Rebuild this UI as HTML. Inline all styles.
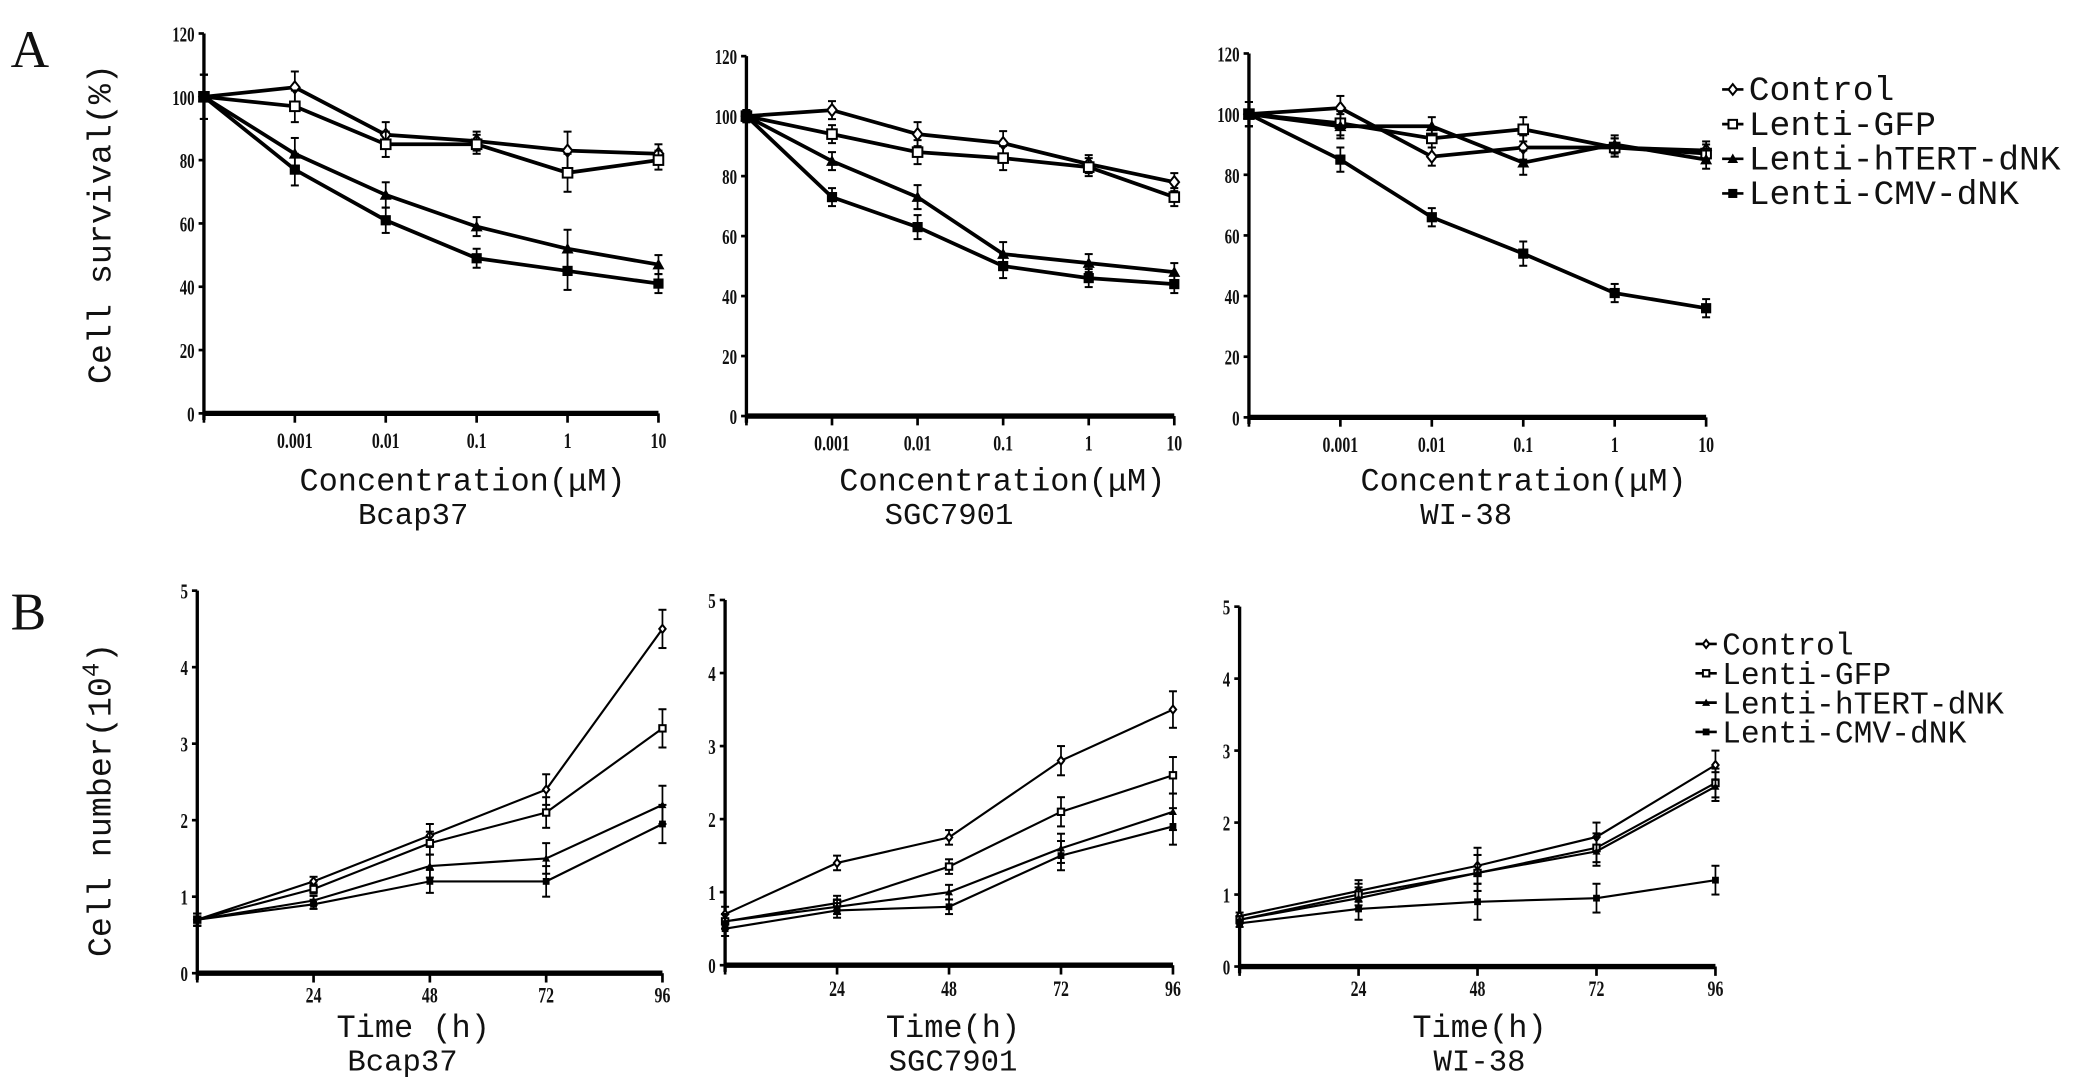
<!DOCTYPE html>
<html><head><meta charset="utf-8">
<style>
html,body{margin:0;padding:0;background:#fff;}
svg{display:block;}
text{font-family:"Liberation Mono","DejaVu Sans Mono",monospace;fill:#111;}
.tick{font-family:"Liberation Serif",serif;font-weight:bold;}
</style></head>
<body>
<svg id="fig" width="2090" height="1090" viewBox="0 0 1568 817.5" xmlns="http://www.w3.org/2000/svg">
<text x="8" y="50" style="font-family:'Liberation Serif',serif" font-size="40">A</text>
<text x="8" y="472" style="font-family:'Liberation Serif',serif" font-size="40">B</text>
<text transform="translate(83,168) rotate(-90)" text-anchor="middle" font-size="25">Cell survival(%)</text>
<text transform="translate(83,600) rotate(-90)" text-anchor="middle" font-size="25">Cell number(10<tspan dy="-9" font-size="18">4</tspan><tspan dy="9">)</tspan></text>
</svg>
<script>
// ---- Data ----
const concCategories = ["", "0.001", "0.01", "0.1", "1", "10"];
const timeCategories = ["", "24", "48", "72", "96"];
const seriesNames = ["Control", "Lenti-GFP", "Lenti-hTERT-dNK", "Lenti-CMV-dNK"];
const survivalTicks = [0, 20, 40, 60, 80, 100, 120];
const numberTicks = [0, 1, 2, 3, 4, 5];

const bcapSurvControl = [100, 103, 88, 86, 83, 82];
const bcapSurvGFP     = [100, 97, 85, 85, 76, 80];
const bcapSurvHTERT   = [100, 82, 69, 59, 52, 47];
const bcapSurvCMV     = [100, 77, 61, 49, 45, 41];
const bcapSurvErr     = [7, 5, 4, 3, 6, 3];

const sgcSurvControl = [100, 102, 94, 91, 84, 78];
const sgcSurvGFP     = [100, 94, 88, 86, 83, 73];
const sgcSurvHTERT   = [100, 85, 73, 54, 51, 48];
const sgcSurvCMV     = [100, 73, 63, 50, 46, 44];
const sgcSurvErr     = [2, 3, 4, 4, 3, 3];

const wiSurvControl = [100, 102, 86, 89, 89, 88];
const wiSurvGFP     = [100, 97, 92, 95, 89, 87];
const wiSurvHTERT   = [100, 96, 96, 84, 90, 85];
const wiSurvCMV     = [100, 85, 66, 54, 41, 36];
const wiSurvErr     = [4, 4, 3, 4, 3, 3];

const bcapNumControl = [0.7, 1.2, 1.8, 2.4, 4.5];
const bcapNumGFP     = [0.7, 1.1, 1.7, 2.1, 3.2];
const bcapNumHTERT   = [0.7, 0.95, 1.4, 1.5, 2.2];
const bcapNumCMV     = [0.7, 0.9, 1.2, 1.2, 1.95];
const bcapNumErr     = [0.08, 0.06, 0.15, 0.2, 0.25];

const sgcNumControl = [0.7, 1.4, 1.75, 2.8, 3.5];
const sgcNumGFP     = [0.6, 0.85, 1.35, 2.1, 2.6];
const sgcNumHTERT   = [0.6, 0.8, 1.0, 1.6, 2.1];
const sgcNumCMV     = [0.5, 0.75, 0.8, 1.5, 1.9];
const sgcNumErr     = [0.1, 0.1, 0.1, 0.2, 0.25];

const wiNumControl = [0.7, 1.05, 1.4, 1.8, 2.8];
const wiNumGFP     = [0.65, 1.0, 1.3, 1.65, 2.55];
const wiNumHTERT   = [0.65, 0.95, 1.3, 1.6, 2.5];
const wiNumCMV     = [0.6, 0.8, 0.9, 0.95, 1.2];
const wiNumErr     = [0.05, 0.15, 0.25, 0.2, 0.2];

const NS = "http://www.w3.org/2000/svg";
const svg = document.getElementById("fig");
function mk(tag, attrs, parent) {
  const e = document.createElementNS(NS, tag);
  for (const k in attrs) e.setAttribute(k, attrs[k]);
  (parent || svg).appendChild(e);
  return e;
}

function marker(g, kind, x, y, s) {
  let m;
  if (kind === 0) {
    m = mk("polygon", {points: `${x},${y-s} ${x+s*0.8},${y} ${x},${y+s} ${x-s*0.8},${y}`, fill: "#fff", stroke: "#000", "stroke-width": 1.5}, g);
  } else if (kind === 1) {
    m = mk("rect", {x: x-s*0.8, y: y-s*0.8, width: s*1.6, height: s*1.6, fill: "#fff", stroke: "#000", "stroke-width": 1.5}, g);
  } else if (kind === 2) {
    m = mk("polygon", {points: `${x},${y-s} ${x+s},${y+s*0.8} ${x-s},${y+s*0.8}`, fill: "#000"}, g);
  } else {
    m = mk("rect", {x: x-s*0.85, y: y-s*0.85, width: s*1.7, height: s*1.7, fill: "#000"}, g);
  }
  return m;
}

function panel(p) {
  const g = mk("g", {});
  
  
  const xs = v => p.xPix[v];
  const ys = v => p.y0 - (v - p.ymin) / (p.ymax - p.ymin) * (p.y0 - p.yTop);
  const ya = mk("line", {x1: p.ax, y1: p.yTop, x2: p.ax, y2: p.y0 + 5, stroke: "#000", "stroke-width": 2.5}, g);
  
  
  const xa = mk("line", {x1: p.ax, y1: p.y0, x2: p.xPix[p.xPix.length-1], y2: p.y0, stroke: "#000", "stroke-width": 4}, g);
  
  
  p.yTicks.forEach(t => {
    const y = ys(t);
    mk("line", {x1: p.ax - 4, y1: y, x2: p.ax, y2: y, stroke: "#000", "stroke-width": 2}, g);
    const tl = mk("text", {x: p.ax - 7, y: y + 6, "text-anchor": "end", "font-size": 16, class: "tick", transform: `translate(${p.ax-7},0) scale(0.7,1) translate(${-(p.ax-7)},0)`}, g);
    tl.textContent = t;
    
    
  });
  p.cats.forEach((c, i) => {
    const x = xs(i);
    mk("line", {x1: x, y1: p.y0, x2: x, y2: p.y0 + 7, stroke: "#000", "stroke-width": 2}, g);
    if (c) {
      const tl = mk("text", {x: x, y: p.tickY, "text-anchor": "middle", "font-size": 17, class: "tick", transform: `translate(${x},0) scale(0.7,1) translate(${-x},0)`}, g);
      tl.textContent = c;
      
      
    }
  });
  p.series.forEach((vals, si) => {
    const sg = mk("g", {}, g);
    
    
    const pts = vals.map((v, i) => `${xs(i)},${ys(v)}`).join(" ");
    const pl = mk("polyline", {points: pts, fill: "none", stroke: "#000", "stroke-width": p.lw}, sg);
    
    
    vals.forEach((v, i) => {
      const e = p.err[i];
      const x = xs(i);
      mk("line", {x1: x, y1: ys(v - e), x2: x, y2: ys(v + e), stroke: "#000", "stroke-width": 1.3}, sg);
      mk("line", {x1: x - 3, y1: ys(v + e), x2: x + 3, y2: ys(v + e), stroke: "#000", "stroke-width": 1.5}, sg);
      mk("line", {x1: x - 3, y1: ys(v - e), x2: x + 3, y2: ys(v - e), stroke: "#000", "stroke-width": 1.5}, sg);
      const m = marker(sg, si, x, ys(v), p.ms);
      
      
    });
  });
  const t1 = mk("text", {x: p.xtX, y: p.xtY, "text-anchor": "middle", "font-size": 24}, g);
  t1.textContent = p.xTitle;
  
  
  const t2 = mk("text", {x: p.ctX, y: p.xtY + 25, "text-anchor": "middle", "font-size": 23}, g);
  t2.textContent = p.cell;
  
  
}

function lin(a, b, n) { const r = []; for (let i = 0; i < n; i++) r.push(a + (b - a) * i / (n - 1)); return r; }

panel({name: "chart-a-bcap37", ax: 153, y0: 310, yTop: 25, ymin: 0, ymax: 120, yTicks: survivalTicks,
  cats: concCategories, xPix: lin(153, 494, 6), tickY: 336, lw: 2.8, ms: 4.5,
  series: [bcapSurvControl, bcapSurvGFP, bcapSurvHTERT, bcapSurvCMV], err: bcapSurvErr,
  xTitle: "Concentration(μM)", xtX: 347, xtY: 368, cell: "Bcap37", ctX: 310});
panel({name: "chart-a-sgc7901", ax: 560, y0: 312, yTop: 42, ymin: 0, ymax: 120, yTicks: survivalTicks,
  cats: concCategories, xPix: lin(560, 881, 6), tickY: 338, lw: 2.8, ms: 4.5,
  series: [sgcSurvControl, sgcSurvGFP, sgcSurvHTERT, sgcSurvCMV], err: sgcSurvErr,
  xTitle: "Concentration(μM)", xtX: 752, xtY: 368, cell: "SGC7901", ctX: 712});
panel({name: "chart-a-wi38", ax: 937, y0: 313, yTop: 40, ymin: 0, ymax: 120, yTicks: survivalTicks,
  cats: concCategories, xPix: lin(937, 1280, 6), tickY: 339, lw: 2.8, ms: 4.5,
  series: [wiSurvControl, wiSurvGFP, wiSurvHTERT, wiSurvCMV], err: wiSurvErr,
  xTitle: "Concentration(μM)", xtX: 1143, xtY: 368, cell: "WI-38", ctX: 1100});

panel({name: "chart-b-bcap37", ax: 148, y0: 730, yTop: 443, ymin: 0, ymax: 5, yTicks: numberTicks,
  cats: timeCategories, xPix: lin(148, 497, 5), tickY: 752, lw: 1.6, ms: 3,
  series: [bcapNumControl, bcapNumGFP, bcapNumHTERT, bcapNumCMV], err: bcapNumErr,
  xTitle: "Time (h)", xtX: 310, xtY: 778, cell: "Bcap37", ctX: 302});
panel({name: "chart-b-sgc7901", ax: 544, y0: 724, yTop: 450, ymin: 0, ymax: 5, yTicks: numberTicks,
  cats: timeCategories, xPix: lin(544, 880, 5), tickY: 747, lw: 1.6, ms: 3,
  series: [sgcNumControl, sgcNumGFP, sgcNumHTERT, sgcNumCMV], err: sgcNumErr,
  xTitle: "Time(h)", xtX: 715, xtY: 778, cell: "SGC7901", ctX: 715});
panel({name: "chart-b-wi38", ax: 930, y0: 725, yTop: 455, ymin: 0, ymax: 5, yTicks: numberTicks,
  cats: timeCategories, xPix: lin(930, 1287, 5), tickY: 747, lw: 1.6, ms: 3,
  series: [wiNumControl, wiNumGFP, wiNumHTERT, wiNumCMV], err: wiNumErr,
  xTitle: "Time(h)", xtX: 1110, xtY: 778, cell: "WI-38", ctX: 1110});

function legend(name, x, y0, dy, fs, ms) {
  const g = mk("g", {});
  
  
  seriesNames.forEach((s, i) => {
    const y = y0 + i * dy;
    const eg = mk("g", {}, g);
    
    
    mk("line", {x1: x, y1: y, x2: x + 16, y2: y, stroke: "#000", "stroke-width": 2}, eg);
    marker(eg, i, x + 8, y, ms);
    const t = mk("text", {x: x + 20, y: y + 8, "font-size": fs}, eg);
    t.textContent = s;
  });
}
legend("legend-a", 1292, 67, 26, 26, 4);
legend("legend-b", 1272, 483, 22, 23.5, 3);
</script>
</body></html>
